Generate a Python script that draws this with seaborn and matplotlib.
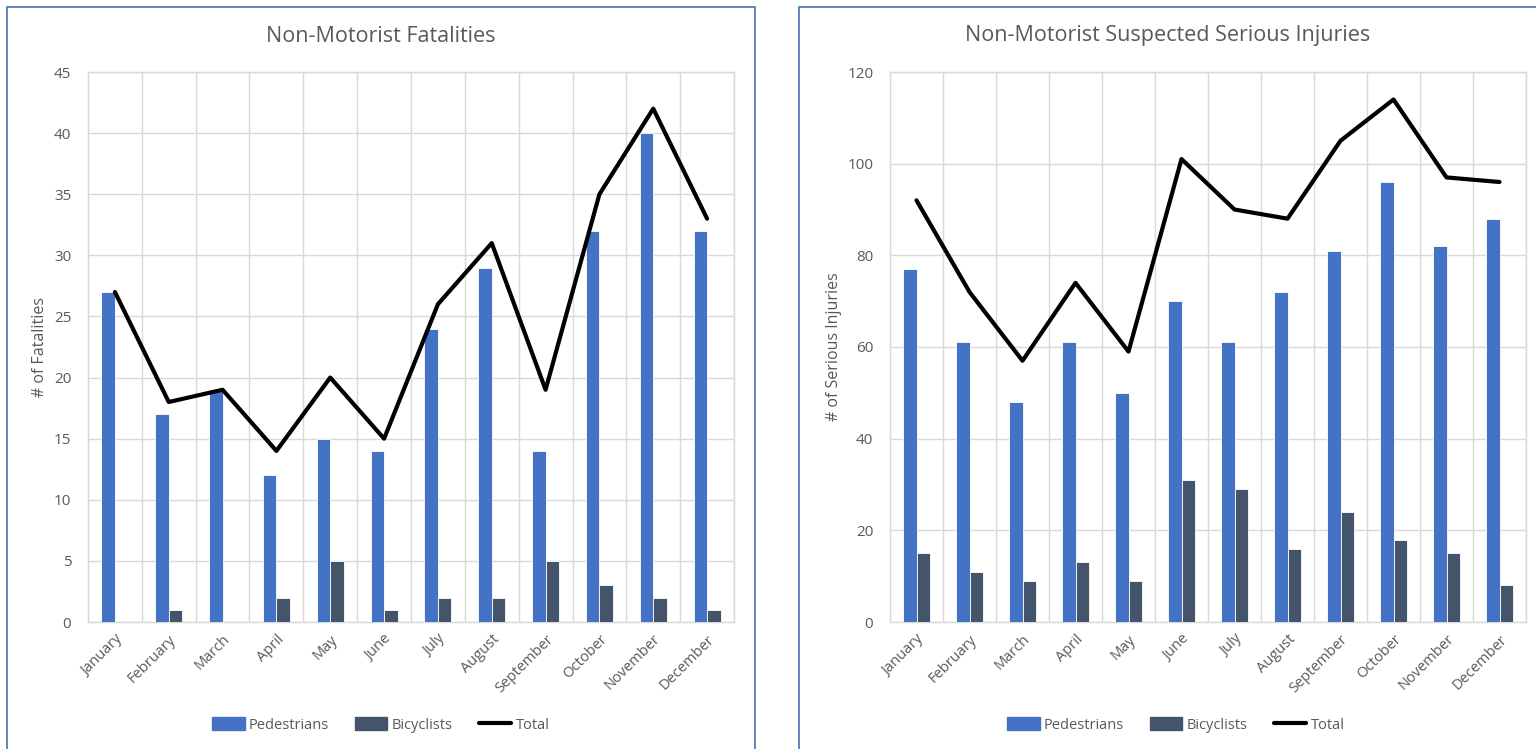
import numpy as np
import pandas as pd
import matplotlib
matplotlib.use("Agg")
import matplotlib.pyplot as plt
from matplotlib.patches import Rectangle, Patch
from matplotlib.lines import Line2D
import seaborn as sns

months = ["January", "February", "March", "April", "May", "June", "July",
          "August", "September", "October", "November", "December"]

fat_ped = [27, 17, 19, 12, 15, 14, 24, 29, 14, 32, 40, 32]
fat_bike = [0, 1, 0, 2, 5, 1, 2, 2, 5, 3, 2, 1]
fat_total = [27, 18, 19, 14, 20, 15, 26, 31, 19, 35, 42, 33]

inj_ped = [77, 61, 48, 61, 50, 70, 61, 72, 81, 96, 82, 88]
inj_bike = [15, 11, 9, 13, 9, 31, 29, 16, 24, 18, 15, 8]
inj_total = [92, 72, 57, 74, 59, 101, 90, 88, 105, 114, 97, 96]

series_names = ["Pedestrians", "Bicyclists", "Total"]
titles = ["Non-Motorist Fatalities", "Non-Motorist Suspected Serious Injuries"]
ylabels = ["# of Fatalities", "# of Serious Injuries"]
yticks_list = [list(range(0, 46, 5)), list(range(0, 121, 20))]

PED = "#4472C4"
BIKE = "#44546A"
TXT = "#595959"
GRID = "#D9D9D9"
BORDER = "#4A6FB5"

sns.set_theme(style="white")
plt.rcParams['font.family'] = ['Open Sans', 'DejaVu Sans']

W, H = 1536, 749
fig = plt.figure(figsize=(W / 100, H / 100), dpi=100)

def fx(px):
    return px / W

def fy(py):
    return 1 - py / H

# panel borders
fig.patches.append(Rectangle((fx(7), fy(760)), fx(755) - fx(7), fy(7) - fy(760),
                             transform=fig.transFigure, fill=False,
                             edgecolor=BORDER, linewidth=1.2, zorder=0))
fig.patches.append(Rectangle((fx(799), fy(760)), fx(1560) - fx(799), fy(7) - fy(760),
                             transform=fig.transFigure, fill=False,
                             edgecolor=BORDER, linewidth=1.2, zorder=0))

axes_px = [(88, 734), (890, 1526)]
panel_centers = [(7 + 755) / 2, (799 + 1536) / 2]
legend_centers = [(7 + 755) / 2, 1176]
datasets = [(fat_ped, fat_bike, fat_total), (inj_ped, inj_bike, inj_total)]

for i, ((x0, x1), (ped, bike, total)) in enumerate(zip(axes_px, datasets)):
    ax = fig.add_axes([fx(x0), fy(622), fx(x1) - fx(x0), fy(72) - fy(622)])
    df = pd.DataFrame({
        "Month": months * 2,
        "Value": list(ped) + list(bike),
        "Series": ["Pedestrians"] * 12 + ["Bicyclists"] * 12,
    })
    sns.barplot(data=df, x="Month", y="Value", hue="Series",
                hue_order=["Pedestrians", "Bicyclists"],
                palette=[PED, BIKE], width=0.5, saturation=1,
                linewidth=0.6, edgecolor="white",
                ax=ax, legend=False, zorder=3)
    sns.lineplot(x=np.arange(len(months)), y=total, color="black",
                 linewidth=3, ax=ax, zorder=4)
    ax.set_xlim(-0.5, 11.5)
    yt = yticks_list[i]
    ax.set_ylim(0, yt[-1])
    ax.set_yticks(yt)
    ax.set_yticklabels([str(v) for v in yt], color=TXT, fontsize=11)
    ax.set_xticks(np.arange(12))
    ax.set_xticklabels(months, rotation=45, ha="right", rotation_mode="anchor",
                       color=TXT, fontsize=10.5)
    ax.tick_params(axis="both", length=0, pad=7)
    ax.tick_params(axis="y", pad=12)
    for b in np.arange(-0.5, 12, 1.0):
        ax.axvline(b, color=GRID, linewidth=1, zorder=1)
    for v in yt:
        ax.axhline(v, color=GRID, linewidth=1, zorder=1)
    for s in ax.spines.values():
        s.set_color(GRID)
        s.set_linewidth(1)
    ax.set_xlabel("")
    ax.set_ylabel(ylabels[i], color=TXT, fontsize=11.5, labelpad=4)
    fig.text(fx(panel_centers[i]), fy(36), titles[i], ha="center", va="center",
             fontsize=15.5, color=TXT)
    handles = [Patch(facecolor=PED, edgecolor=PED),
               Patch(facecolor=BIKE, edgecolor=BIKE),
               Line2D([0], [0], color="black", linewidth=3)]
    fig.legend(handles, series_names, loc="center",
               bbox_to_anchor=(fx(legend_centers[i]), fy(725)),
               ncol=3, frameon=False, fontsize=10.5, labelcolor=TXT,
               handlelength=2.2, handleheight=0.9, handletextpad=0.3,
               columnspacing=1.8)

fig.savefig("out.png", dpi=100, facecolor="white")
